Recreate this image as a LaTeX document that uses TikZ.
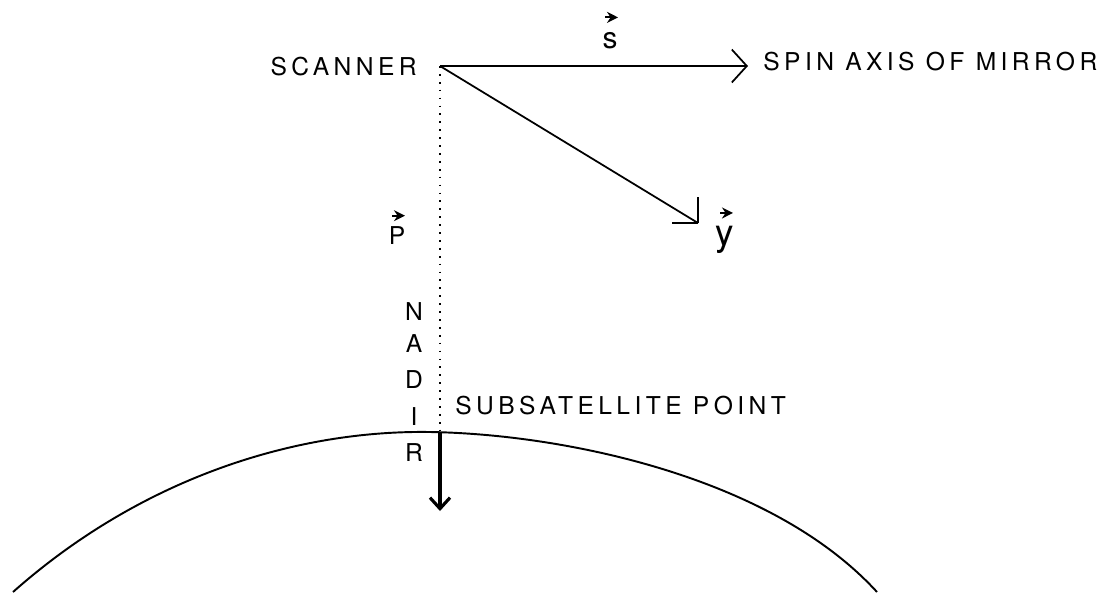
\documentclass[tikz,border=0pt]{standalone}
\usepackage{fontspec}
\newfontfamily\lettering[LetterSpace=18]{TeX Gyre Heros}
\newfontfamily\vecfont{TeX Gyre Heros}
\usetikzlibrary{arrows.meta}
\tikzset{
  caption/.style={font=\lettering\fontsize{14}{16}\selectfont, inner sep=0pt},
  vecletter/.style={font=\vecfont, inner sep=0pt},
  vecarr/.style={line width=1.2pt, -{Stealth[length=2.2mm,width=2.2mm]}},
  axisline/.style={line width=1pt},
  openarr/.style={axisline, -{Straight Barb[length=3mm,width=6.6mm]}},
  nadirarr/.style={line width=1.8pt, -{Straight Barb[length=2.2mm,width=4mm]}},
  dotline/.style={line width=1pt, dash pattern=on 1pt off 3.5pt},
  earth/.style={line width=1.1pt},
}

\begin{document}
\begin{tikzpicture}[x=0.02cm, y=-0.02cm]
  \useasboundingbox (0,0) rectangle (1110,593);
  % scanner frame
  \coordinate (scanner) at (440,66);
  \coordinate (stip) at (748,66);
  \coordinate (ytip) at (698,223);
  \coordinate (subsat) at (440,433);
  \coordinate (nadirtip) at (440,511);
  \node[caption, anchor=east] (scannerlbl) at (417,67) {SCANNER};
  \node[caption, anchor=west] (spinlbl) at (763,62) {SPIN AXIS OF MIRROR};
  \node[caption, anchor=west] (subsatlbl) at (455,406) {SUBSATELLITE POINT};
  \node[vecletter, font=\vecfont\fontsize{17}{19}\selectfont] (slbl) at (610,41) {s};
  \node[vecletter, font=\vecfont\fontsize{21}{23}\selectfont] (ylbl) at (725,240) {y};
  \node[vecletter, font=\vecfont\fontsize{14}{16}\selectfont] (plbl) at (397,236) {P};
  \draw[vecarr] ([shift={(-5,-15)}]slbl.north) -- ([shift={(8,-15)}]slbl.north);
  \draw[vecarr] ([shift={(-5,-13)}]ylbl.north) -- ([shift={(8,-13)}]ylbl.north);
  \draw[vecarr] ([shift={(-5,-11)}]plbl.north) -- ([shift={(8,-11)}]plbl.north);
  \foreach \ch/\yy [count=\k] in {N/312,A/344,D/380,I/417,R/453}
    \node[caption] (nadir\k) at (414,\yy) {\ch};
  % axes
  \draw[openarr] (scanner) -- (stip);
  \draw[axisline] (scanner) -- (ytip);
  \draw[axisline] (ytip) -- ++(-26,0);
  \draw[axisline] (ytip) -- ++(0,-26);
  \draw[dotline] (scanner) -- (subsat);
  \draw[nadirarr] (subsat) -- (nadirtip);
  % earth limb
  \draw[earth] (13,592) .. controls (145,475) and (300,430) .. (430,432)
    .. controls (560,434) and (770,475) .. (877,592);
\end{tikzpicture}
\end{document}
